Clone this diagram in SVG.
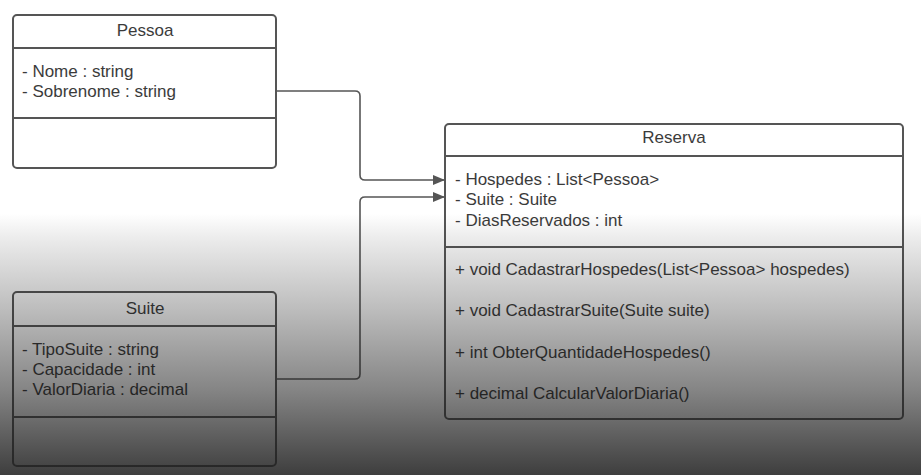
<svg xmlns="http://www.w3.org/2000/svg" width="921" height="475" viewBox="0 0 921 475">
<defs>
<linearGradient id="bg" gradientUnits="userSpaceOnUse" x1="0" y1="0" x2="0" y2="475">
<stop offset="0" stop-color="#ffffff"/>
<stop offset="0.45" stop-color="#ffffff"/>
<stop offset="0.5" stop-color="#ececec"/>
<stop offset="0.65" stop-color="#bdbdbd"/>
<stop offset="0.82" stop-color="#858585"/>
<stop offset="1" stop-color="#3e3e3e"/>
</linearGradient>
<linearGradient id="ink" gradientUnits="userSpaceOnUse" x1="0" y1="0" x2="0" y2="475">
<stop offset="0" stop-color="#555555"/>
<stop offset="0.45" stop-color="#555555"/>
<stop offset="1" stop-color="#262626"/>
</linearGradient>
<linearGradient id="txt" gradientUnits="userSpaceOnUse" x1="0" y1="0" x2="0" y2="475">
<stop offset="0" stop-color="#3a3a3a"/>
<stop offset="0.45" stop-color="#3a3a3a"/>
<stop offset="1" stop-color="#1a1a1a"/>
</linearGradient>
<marker id="arr" markerWidth="12" markerHeight="10" refX="12" refY="5" orient="auto" markerUnits="userSpaceOnUse">
<path d="M0,0 L12,5 L0,10 Z" fill="#555"/>
</marker>
<style>
.box{fill:none;stroke:url(#ink);stroke-width:2}
.div{stroke:url(#ink);stroke-width:2}
.t{font-family:"Liberation Sans",Arial,sans-serif;font-size:17px;fill:url(#txt)}
.c{text-anchor:middle}
.conn{fill:none;stroke:url(#ink);stroke-width:1.6}
</style>
</defs>
<rect x="0" y="0" width="921" height="475" fill="url(#bg)"/>
<g id="connectors">
<path class="conn" d="M276,91 H355 Q360,91 360,96 V175 Q360,180 365,180 H445" marker-end="url(#arr)"/>
<path class="conn" d="M276,379 H355 Q360,379 360,374 V202 Q360,197 365,197 H445" marker-end="url(#arr)"/>
</g>
<g id="pessoa">
<rect class="box" x="13" y="15" width="263" height="153" rx="4"/>
<line class="div" x1="13" y1="48" x2="276" y2="48"/>
<line class="div" x1="13" y1="118" x2="276" y2="118"/>
<text class="t c" x="145" y="36">Pessoa</text>
<text class="t" x="22" y="77">- Nome : string</text>
<text class="t" x="22" y="97">- Sobrenome : string</text>
</g>
<g id="suite">
<rect class="box" x="13" y="292" width="263" height="174" rx="4"/>
<line class="div" x1="13" y1="326" x2="276" y2="326"/>
<line class="div" x1="13" y1="417" x2="276" y2="417"/>
<text class="t c" x="145" y="314">Suite</text>
<text class="t" x="22" y="355">- TipoSuite : string</text>
<text class="t" x="22" y="375">- Capacidade : int</text>
<text class="t" x="22" y="395">- ValorDiaria : decimal</text>
</g>
<g id="reserva">
<rect class="box" x="445" y="124" width="458" height="295" rx="4"/>
<line class="div" x1="445" y1="156" x2="903" y2="156"/>
<line class="div" x1="445" y1="247" x2="903" y2="247"/>
<text class="t c" x="674" y="143">Reserva</text>
<text class="t" x="455" y="185">- Hospedes : List&lt;Pessoa&gt;</text>
<text class="t" x="455" y="205">- Suite : Suite</text>
<text class="t" x="455" y="226">- DiasReservados : int</text>
<text class="t" x="455" y="275">+ void CadastrarHospedes(List&lt;Pessoa&gt; hospedes)</text>
<text class="t" x="455" y="316">+ void CadastrarSuite(Suite suite)</text>
<text class="t" x="455" y="358">+ int ObterQuantidadeHospedes()</text>
<text class="t" x="455" y="399">+ decimal CalcularValorDiaria()</text>
</g>
</svg>
